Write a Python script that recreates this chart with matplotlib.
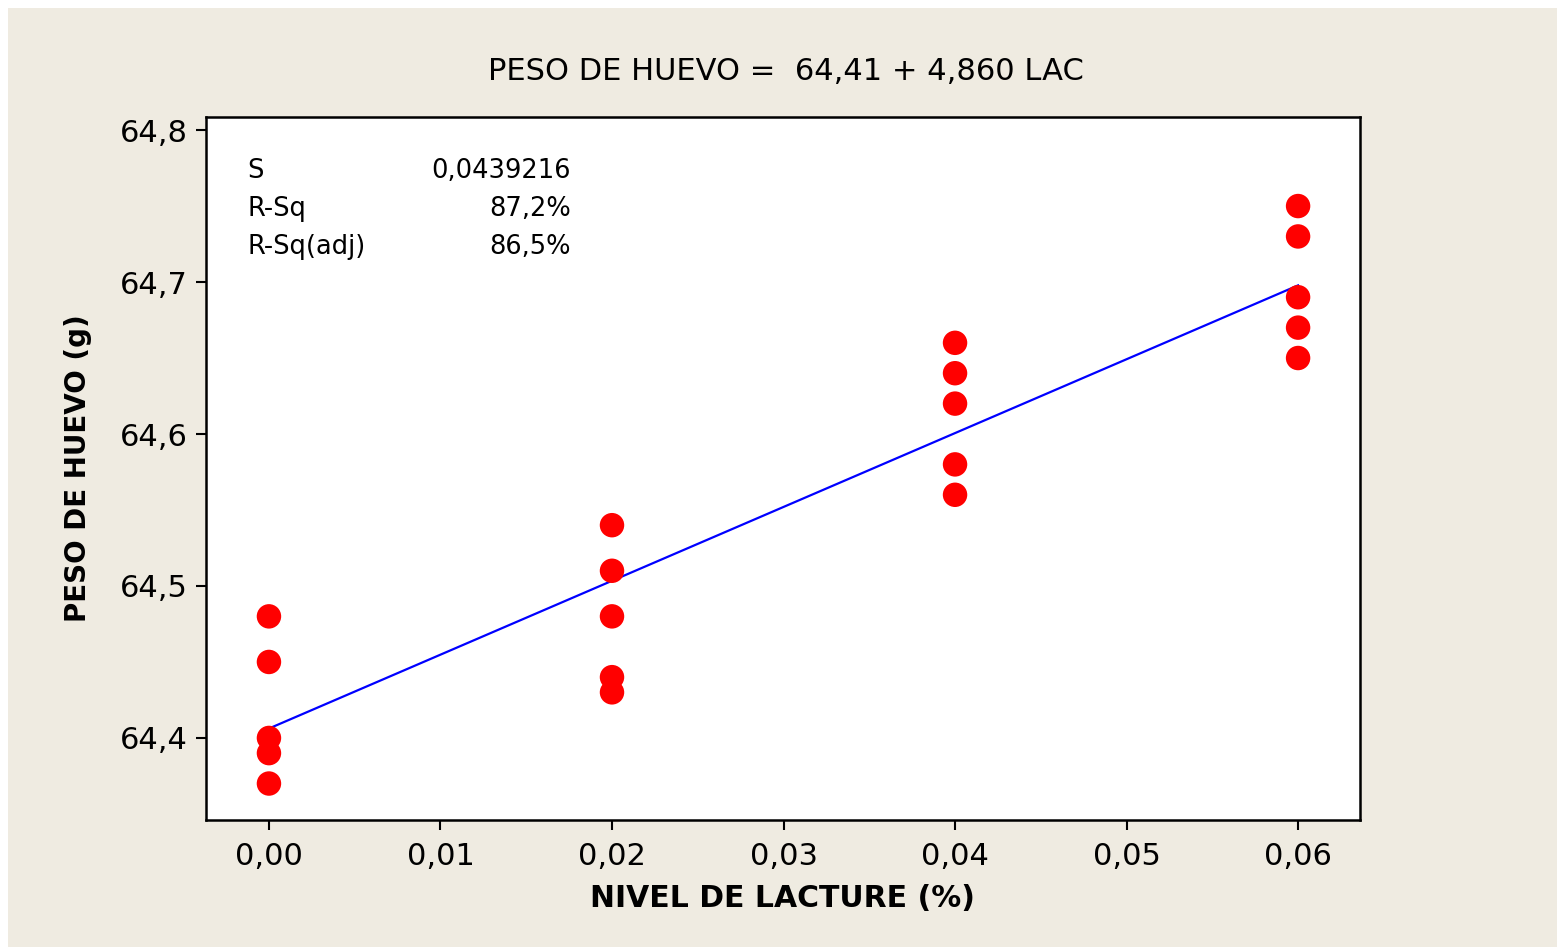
import matplotlib
matplotlib.use('Agg')
import matplotlib.pyplot as plt
import numpy as np
from matplotlib.patches import Rectangle

# nivel de lacture (%) y peso de huevo (g), 5 repeticiones por nivel
lac = [0.00]*5 + [0.02]*5 + [0.04]*5 + [0.06]*5
peso = [64.48, 64.45, 64.40, 64.39, 64.37,
        64.54, 64.51, 64.48, 64.44, 64.43,
        64.66, 64.64, 64.62, 64.58, 64.56,
        64.75, 64.73, 64.69, 64.67, 64.65]

xticks = [0.00, 0.01, 0.02, 0.03, 0.04, 0.05, 0.06]
xtick_labels = ['0,00', '0,01', '0,02', '0,03', '0,04', '0,05', '0,06']
yticks = [64.4, 64.5, 64.6, 64.7, 64.8]
ytick_labels = ['64,4', '64,5', '64,6', '64,7', '64,8']

stat_names = ['S', 'R-Sq', 'R-Sq(adj)']
stat_values = ['0,0439216', '87,2%', '86,5%']

x = np.array(lac)
y = np.array(peso)
b1, b0 = np.polyfit(x, y, 1)

fig = plt.figure(figsize=(15.57, 9.47), dpi=100, facecolor='white')
fig.patches.append(Rectangle((8/1557, 0), 1, 1 - 8/947, transform=fig.transFigure,
                             facecolor='#efebe1', edgecolor='none', zorder=-10))

ax = fig.add_axes([206/1557, 1 - 820/947, 1154/1557, 703/947])
ax.set_facecolor('white')

xx = np.linspace(0, 0.06, 50)
ax.plot(xx, b0 + b1*xx, color='#0000ff', lw=1.6, zorder=2)
ax.scatter(x, y, s=310, color='#ff0000', edgecolors='none', zorder=3)

ax.set_xlim(-0.00367, 0.06361)
ax.set_ylim(64.346, 64.8086)
ax.set_xticks(xticks)
ax.set_xticklabels(xtick_labels)
ax.set_yticks(yticks)
ax.set_yticklabels(ytick_labels)
ax.tick_params(direction='out', length=7, width=1.5, labelsize=22, pad=6, colors='black')
ax.tick_params(axis='x', pad=9)
for sp in ax.spines.values():
    sp.set_linewidth(1.8)
    sp.set_color('black')

ax.set_xlabel('NIVEL DE LACTURE (%)', fontsize=21.5, fontweight='bold', labelpad=9)
ax.set_ylabel('PESO DE HUEVO (g)', fontsize=20, fontweight='bold', labelpad=20)

fig.text(786/1557, 1 - 72/947, 'PESO DE HUEVO =  64,41 + 4,860 LAC',
         ha='center', va='center', fontsize=22)

for i, (n, v) in enumerate(zip(stat_names, stat_values)):
    yy = 1 - (171 + 38*i)/947
    fig.text(247/1557, yy, n, ha='left', va='center', fontsize=18.5)
    fig.text(571/1557, yy, v, ha='right', va='center', fontsize=18.5)

fig.savefig('out.png', dpi=100, facecolor=fig.get_facecolor())
